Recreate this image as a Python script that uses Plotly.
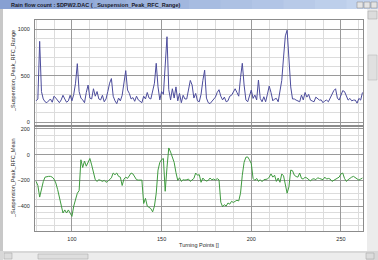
import plotly.graph_objects as go

# ---------------- data ----------------
turning_points = list(range(80, 263))

rfc_range = [
    230, 250, 870, 330, 250, 220, 210, 230, 250, 215,   # 80-89
    280, 260, 230, 210, 240, 290, 250, 215, 230, 290,   # 90-99
    230, 300, 420, 630, 330, 260, 240, 210, 320, 400,   # 100-109
    260, 250, 360, 280, 330, 250, 240, 290, 220, 250,   # 110-119
    330, 420, 470, 280, 230, 200, 260, 230, 290, 420,   # 120-129
    555, 346, 310, 250, 265, 225, 280, 240, 220, 210,   # 130-139
    280, 250, 320, 260, 250, 330, 420, 634, 380, 240,   # 140-149
    330, 300, 600, 920, 350, 240, 360, 260, 380, 230,   # 150-159
    310, 210, 290, 250, 250, 340, 450, 400, 260, 310,   # 160-169
    230, 220, 300, 450, 560, 260, 210, 200, 220, 240,   # 170-179
    270, 320, 350, 280, 240, 270, 220, 230, 280, 290,   # 180-189
    330, 360, 320, 280, 480, 634, 400, 240, 220, 300,   # 190-199
    346, 256, 292, 240, 454, 256, 220, 274, 220, 300,   # 200-209
    389, 320, 230, 250, 256, 220, 330, 450, 700, 930,   # 210-219
    990, 700, 380, 250, 250, 238, 230, 220, 292, 240,   # 220-229
    320, 270, 300, 238, 228, 220, 270, 256, 238, 240,   # 230-239
    210, 230, 238, 220, 260, 300, 340, 360, 260, 238,   # 240-249
    280, 340, 330, 290, 238, 256, 230, 238, 238, 205,   # 250-259
    256, 238, 320,                                      # 260-262
]

rfc_mean = [
    -208, -240, -330, -260, -210, -175, -169, -169, -169, -175,   # 80-89
    -190, -220, -270, -330, -405, -454, -430, -454, -430, -450,   # 90-99
    -480, -400, -340, -300, -280, -40, -100, -50, -90, -60,       # 100-109
    -30, -80, -150, -195, -208, -195, -200, -208, -200, -215,     # 110-119
    -208, -195, -180, -143, -156, -143, -169, -175, -240, -190,   # 120-129
    -175, -185, -165, -143, -150, -175, -195, -198, -198, -198,   # 130-139
    -380, -340, -400, -410, -420, -445, -400, -300, -120, -60,    # 140-149
    -39, -30, -285, -100, 52, 20, -15, -60, -140, -200,           # 150-159
    -180, -208, -195, -198, -195, -190, -208, -195, -185, -143,   # 160-169
    -160, -156, -215, -182, -198, -205, -200, -182, -195, -190,   # 170-179
    -198, -186, -196, -370, -405, -389, -400, -376, -385, -363,   # 180-189
    -372, -363, -355, -360, -300, -160, -60, -20, -18, -40,       # 190-199
    -70, -185, -200, -185, -208, -195, -210, -195, -190, -190,    # 200-209
    -175, -150, -175, -160, -208, -182, -215, -150, -165, -246,   # 210-219
    -300, -250, -120, -125, -160, -170, -175, -143, -185, -190,   # 220-229
    -175, -182, -192, -205, -190, -188, -195, -180, -185, -192,   # 230-239
    -195, -175, -190, -185, -190, -208, -200, -192, -182, -175,   # 240-249
    -150, -143, -185, -208, -195, -182, -175, -169, -180, -192,   # 250-259
    -198, -190, -182,                                             # 260-262
]

top_ticks = [0, 500, 1000]
bottom_ticks = [-400, -200, 0, 200]
x_ticks = [100, 150, 200, 250]

title_text = "Rain flow count : $DPW2.DAC ( _Suspension_Peak_RFC_Range)"
y1_title = "_Suspension_Peak_RFC_Range"
y2_title = "_Suspension_Peak_RFC_Mean"
x_title = "Turning Points []"

# ---------------- layout helpers ----------------
W, H = 378, 260


def px(x):
    return x / W


def py(y):
    return (H - y) / H


FONT = "Liberation Sans, Arial, sans-serif"
MAJOR = "#9a9a9a"
MINOR = "#dcdcdc"
FRAME = "#8c8c8c"
TXT = "#2a2a2a"

fig = go.Figure()
fig.add_trace(go.Scatter(x=turning_points, y=rfc_range, mode="lines",
                         line=dict(color="#4c4c9c", width=1), xaxis="x", yaxis="y",
                         showlegend=False, hoverinfo="skip"))
fig.add_trace(go.Scatter(x=turning_points, y=rfc_mean, mode="lines",
                         line=dict(color="#3f9a3f", width=1), xaxis="x2", yaxis="y2",
                         showlegend=False, hoverinfo="skip"))

xdom = [px(35), px(363)]
xrange_ = [79.4, 262.3]

common_x = dict(range=xrange_, domain=xdom, tick0=0, dtick=50, showgrid=True,
                gridcolor=MAJOR, gridwidth=1, zeroline=False, showline=True,
                mirror=True, linecolor=FRAME, linewidth=1, ticks="",
                minor=dict(dtick=10, tick0=0, showgrid=True, gridcolor=MINOR, gridwidth=1),
                tickfont=dict(family=FONT, size=5.5, color=TXT))

fig.update_layout(
    width=W, height=H, margin=dict(l=0, r=0, t=0, b=0),
    paper_bgcolor="white", plot_bgcolor="white",
    xaxis=dict(common_x, anchor="y", showticklabels=False),
    yaxis=dict(domain=[py(125), py(20)], range=[-30, 1100], tickmode="array",
               tickvals=top_ticks, showgrid=True, gridcolor=MAJOR, zeroline=False,
               showline=True, mirror=True, linecolor=FRAME, ticks="",
               minor=dict(dtick=100, tick0=0, showgrid=True, gridcolor=MINOR),
               tickfont=dict(family=FONT, size=5.5, color=TXT), ticklabelstandoff=3),
    xaxis2=dict(common_x, anchor="y2", tickmode="array", tickvals=x_ticks,
                ticklabelstandoff=3),
    yaxis2=dict(domain=[py(230.5), py(127)], range=[-590, 215], tickmode="array",
                tickvals=bottom_ticks, showgrid=True, gridcolor=MAJOR, zeroline=False,
                showline=True, mirror=True, linecolor=FRAME, ticks="",
                minor=dict(dtick=50, tick0=0, showgrid=True, gridcolor=MINOR),
                tickfont=dict(family=FONT, size=5.5, color=TXT), ticklabelstandoff=3),
)

shapes = []
# window left border
shapes.append(dict(type="rect", xref="paper", yref="paper", x0=0, x1=px(3), y0=0, y1=1,
                   fillcolor="#c8c8c8", line=dict(width=0), layer="above"))
# title bar gradient
steps = 12
c0 = (135, 160, 210)
c1 = (195, 212, 238)
for i in range(steps):
    t = i / (steps - 1)
    col = tuple(int(c0[k] + (c1[k] - c0[k]) * t) for k in range(3))
    shapes.append(dict(type="rect", xref="paper", yref="paper",
                       x0=i / steps, x1=(i + 1) / steps + 0.002, y0=py(9), y1=1,
                       fillcolor="rgb(%d,%d,%d)" % col, line=dict(width=0), layer="above"))
# title bar buttons
for bx in (357, 364, 371):
    shapes.append(dict(type="rect", xref="paper", yref="paper", x0=px(bx), x1=px(bx + 6),
                       y0=py(8), y1=py(2), fillcolor="#e4e4e4",
                       line=dict(color="#808080", width=0.5), layer="above"))
# vertical scrollbar
shapes.append(dict(type="rect", xref="paper", yref="paper", x0=px(367), x1=1, y0=py(251), y1=py(9),
                   fillcolor="#ececec", line=dict(width=0), layer="above"))
shapes.append(dict(type="rect", xref="paper", yref="paper", x0=px(368), x1=px(377), y0=py(19), y1=py(11),
                   fillcolor="#dcdcdc", line=dict(color="#a0a0a0", width=0.5), layer="above"))
shapes.append(dict(type="rect", xref="paper", yref="paper", x0=px(368), x1=px(377), y0=py(80), y1=py(55),
                   fillcolor="#e0e0e0", line=dict(color="#b0b0b0", width=0.5), layer="above"))
# horizontal scrollbar
shapes.append(dict(type="rect", xref="paper", yref="paper", x0=0, x1=1, y0=0, y1=py(251),
                   fillcolor="#d8d8d8", line=dict(width=0), layer="above"))
shapes.append(dict(type="rect", xref="paper", yref="paper", x0=px(3), x1=px(366), y0=0, y1=py(253),
                   fillcolor="#ececec", line=dict(width=0), layer="above"))
shapes.append(dict(type="rect", xref="paper", yref="paper", x0=px(38), x1=px(88), y0=py(259), y1=py(254),
                   fillcolor="#dedede", line=dict(color="#a0a0a0", width=0.5), layer="above"))
for bx in (4, 366):
    shapes.append(dict(type="rect", xref="paper", yref="paper", x0=px(bx), x1=px(bx + 8),
                       y0=py(259), y1=py(253), fillcolor="#dcdcdc",
                       line=dict(color="#a0a0a0", width=0.5), layer="above"))
fig.update_layout(shapes=shapes)

fig.add_annotation(text="<b>" + title_text + "</b>", xref="paper", yref="paper",
                   x=px(9), y=py(4.5), xanchor="left", yanchor="middle", showarrow=False,
                   font=dict(family=FONT, size=5.5, color="#1a1a2a"))
# axis titles
fig.add_annotation(text=y1_title, xref="paper", yref="paper", x=px(13), y=py(71),
                   textangle=-90, showarrow=False, xanchor="center", yanchor="middle",
                   font=dict(family=FONT, size=5.5, color=TXT))
fig.add_annotation(text=y2_title, xref="paper", yref="paper", x=px(13), y=py(178),
                   textangle=-90, showarrow=False, xanchor="center", yanchor="middle",
                   font=dict(family=FONT, size=5.5, color=TXT))
fig.add_annotation(text=x_title, xref="paper", yref="paper", x=px(199), y=py(245),
                   showarrow=False, xanchor="center", yanchor="middle",
                   font=dict(family=FONT, size=5.5, color=TXT))

fig.write_html("out.html")
